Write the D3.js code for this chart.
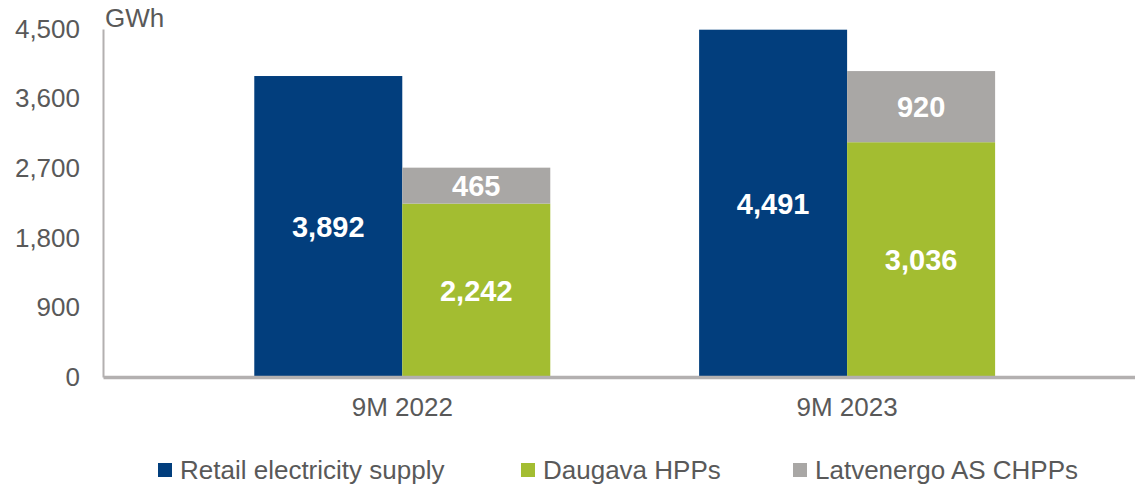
<!DOCTYPE html>
<html lang="en">
<head>
<meta charset="utf-8">
<title>GWh</title>
<style>
  body { margin: 0; background: #fff; }
  text { font-family: "Liberation Sans", Arial, sans-serif; }
  .axis text { fill: #595959; font-size: 26px; }
  .axis path { stroke: #b3b0b0; }
  .lbl { fill: #fff; font-size: 29px; font-weight: bold; }
  .legend text { fill: #595959; font-size: 26px; }
</style>
</head>
<body>
<div id="chart"></div>
<script src="https://cdn.jsdelivr.net/npm/d3@7"></script>
<script>
  var width = 1135,
      height = 487;

  // data
  var periods = ["9M 2022", "9M 2023"];
  var retail = [3892, 4491];
  var daugava = [2242, 3036];
  var chpp = [465, 920];
  var yTicks = [0, 900, 1800, 2700, 3600, 4500];
  var seriesNames = ["Retail electricity supply", "Daugava HPPs", "Latvenergo AS CHPPs"];
  var colors = ["#023e7d", "#a3bd31", "#a9a7a5"];

  var svg = d3.select("#chart")
      .append("svg")
      .attr("width", width)
      .attr("height", height);

  var y = d3.scaleLinear()
      .domain([0, 4500])
      .range([377, 29]);

  var x0 = d3.scaleBand()
      .domain(periods)
      .range([103, 1135])
      .paddingInner(0)
      .paddingOuter(0.16)
      .align(0.54);

  var half = 148;

  // retail bars (left of centre)
  svg.append("g")
    .selectAll("rect")
      .data(periods)
    .enter().append("rect")
      .attr("x", function(d) { return x0(d) + x0.bandwidth() / 2 - half; })
      .attr("width", half)
      .attr("y", function(d, i) { return y(retail[i]); })
      .attr("height", function(d, i) { return y(0) - y(retail[i]); })
      .attr("fill", colors[0]);

  // stacked generation bars (right of centre)
  var stack = periods.map(function(p, i) {
    return [
      {p: p, y0: 0, y1: daugava[i], v: daugava[i], c: colors[1]},
      {p: p, y0: daugava[i], y1: daugava[i] + chpp[i], v: chpp[i], c: colors[2]}
    ];
  });
  var segs = [].concat.apply([], stack);

  svg.append("g")
    .selectAll("rect")
      .data(segs)
    .enter().append("rect")
      .attr("x", function(d) { return x0(d.p) + x0.bandwidth() / 2; })
      .attr("width", half)
      .attr("y", function(d) { return y(d.y1); })
      .attr("height", function(d) { return y(d.y0) - y(d.y1); })
      .attr("fill", function(d) { return d.c; });

  // value labels
  var fmt = d3.format(",");
  svg.append("g")
    .selectAll("text")
      .data(periods)
    .enter().append("text")
      .attr("class", "lbl")
      .attr("text-anchor", "middle")
      .attr("x", function(d) { return x0(d) + x0.bandwidth() / 2 - half / 2; })
      .attr("y", function(d, i) { return (y(0) + y(retail[i])) / 2; })
      .attr("dy", "0.36em")
      .text(function(d, i) { return fmt(retail[i]); });

  svg.append("g")
    .selectAll("text")
      .data(segs)
    .enter().append("text")
      .attr("class", "lbl")
      .attr("text-anchor", "middle")
      .attr("x", function(d) { return x0(d.p) + x0.bandwidth() / 2 + half / 2; })
      .attr("y", function(d) { return (y(d.y0) + y(d.y1)) / 2; })
      .attr("dy", "0.36em")
      .text(function(d) { return fmt(d.v); });

  // axes
  var yAxis = svg.append("g")
      .attr("class", "axis")
      .attr("transform", "translate(103,0)")
      .call(d3.axisLeft(y).tickValues(yTicks).tickFormat(fmt).tickSize(0).tickPadding(23));
  yAxis.select(".domain").attr("stroke-width", 2);
  yAxis.selectAll("text").attr("font-size", null).attr("font-family", null);

  var xAxis = svg.append("g")
      .attr("class", "axis")
      .attr("transform", "translate(0,377)")
      .call(d3.axisBottom(x0).tickSize(0).tickSizeOuter(0).tickPadding(21));
  xAxis.select(".domain").attr("stroke-width", 3.5);
  xAxis.selectAll("text").attr("font-size", null).attr("font-family", null);
  yAxis.attr("font-size", null).attr("font-family", null);
  xAxis.attr("font-size", null).attr("font-family", null);

  svg.append("text")
      .attr("x", 105)
      .attr("y", 27)
      .attr("fill", "#595959")
      .attr("font-size", 26)
      .text("GWh");

  // legend
  var legX = [158, 521, 793];
  var leg = svg.append("g")
      .attr("class", "legend")
    .selectAll("g")
      .data(seriesNames)
    .enter().append("g")
      .attr("transform", function(d, i) { return "translate(" + legX[i] + ",0)"; });

  leg.append("rect")
      .attr("y", 463)
      .attr("width", 14)
      .attr("height", 14)
      .attr("fill", function(d, i) { return colors[i]; });

  leg.append("text")
      .attr("x", 22)
      .attr("y", 479)
      .text(function(d) { return d; });
</script>
</body>
</html>
